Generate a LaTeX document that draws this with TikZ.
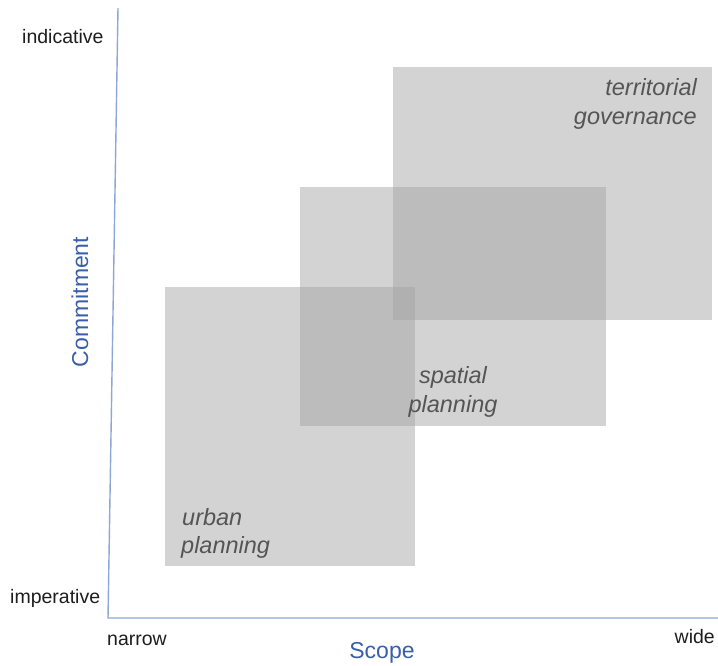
\documentclass[tikz,border=0pt]{standalone}
\usepackage{fontspec}
\setmainfont{Liberation Sans}
\definecolor{axisblue}{HTML}{8FA7D6}
\definecolor{labelblue}{HTML}{3A5EA8}
\definecolor{zonegray}{gray}{0.64}
\definecolor{zonetext}{HTML}{555555}
\definecolor{ticktext}{HTML}{1E1E1E}
\begin{document}
\begin{tikzpicture}[x=1pt,y=-1pt,
  zone/.style={fill=zonegray, fill opacity=0.47, draw=none},
  axisline/.style={draw=axisblue, line width=1.4pt},
  ticklabel/.style={text=ticktext, inner sep=0pt, font=\fontsize{19.5}{22}\selectfont},
  axislabel/.style={text=labelblue, inner sep=0pt, font=\fontsize{23}{26}\selectfont},
  zonelabel/.style={text=zonetext, inner sep=0pt, font=\fontsize{23.5}{29}\selectfont\itshape}]
\useasboundingbox (0,0) rectangle (718,665);
\fill[white] (0,0) rectangle (718,665);
% zones
\fill[zone] (165,287) rectangle (415,566);
\fill[zone] (300,187) rectangle (606,426);
\fill[zone] (393,67) rectangle (712,320);
% axes
\coordinate (ytop) at (118,8);
\coordinate (origin) at (108,618);
\coordinate (xend) at (718,618);
\draw[axisline] (ytop) -- (origin) -- (xend);
% tick labels
\node[ticklabel, anchor=base west] (indicative) at (22,43) {indicative};
\node[ticklabel, anchor=base west] (imperative) at (10,603) {imperative};
\node[ticklabel, anchor=base west] (narrow) at (107,645) {narrow};
\node[ticklabel, anchor=base east] (wide) at (715,643) {wide};
% axis labels
\node[axislabel, anchor=base] (scope) at (382,658) {Scope};
\node[axislabel, rotate=90, anchor=base] (commitment) at (88,302) {Commitment};
% zone labels
\node[zonelabel, anchor=base east] (terr1) at (697,95) {territorial};
\node[zonelabel, anchor=base east] (terr2) at (697,124) {governance};
\node[zonelabel, anchor=base] (spat1) at (453,383) {spatial};
\node[zonelabel, anchor=base] (spat2) at (453,412) {planning};
\node[zonelabel, anchor=base west] (urb1) at (182,525) {urban};
\node[zonelabel, anchor=base west] (urb2) at (181,553) {planning};
\end{tikzpicture}
\end{document}
